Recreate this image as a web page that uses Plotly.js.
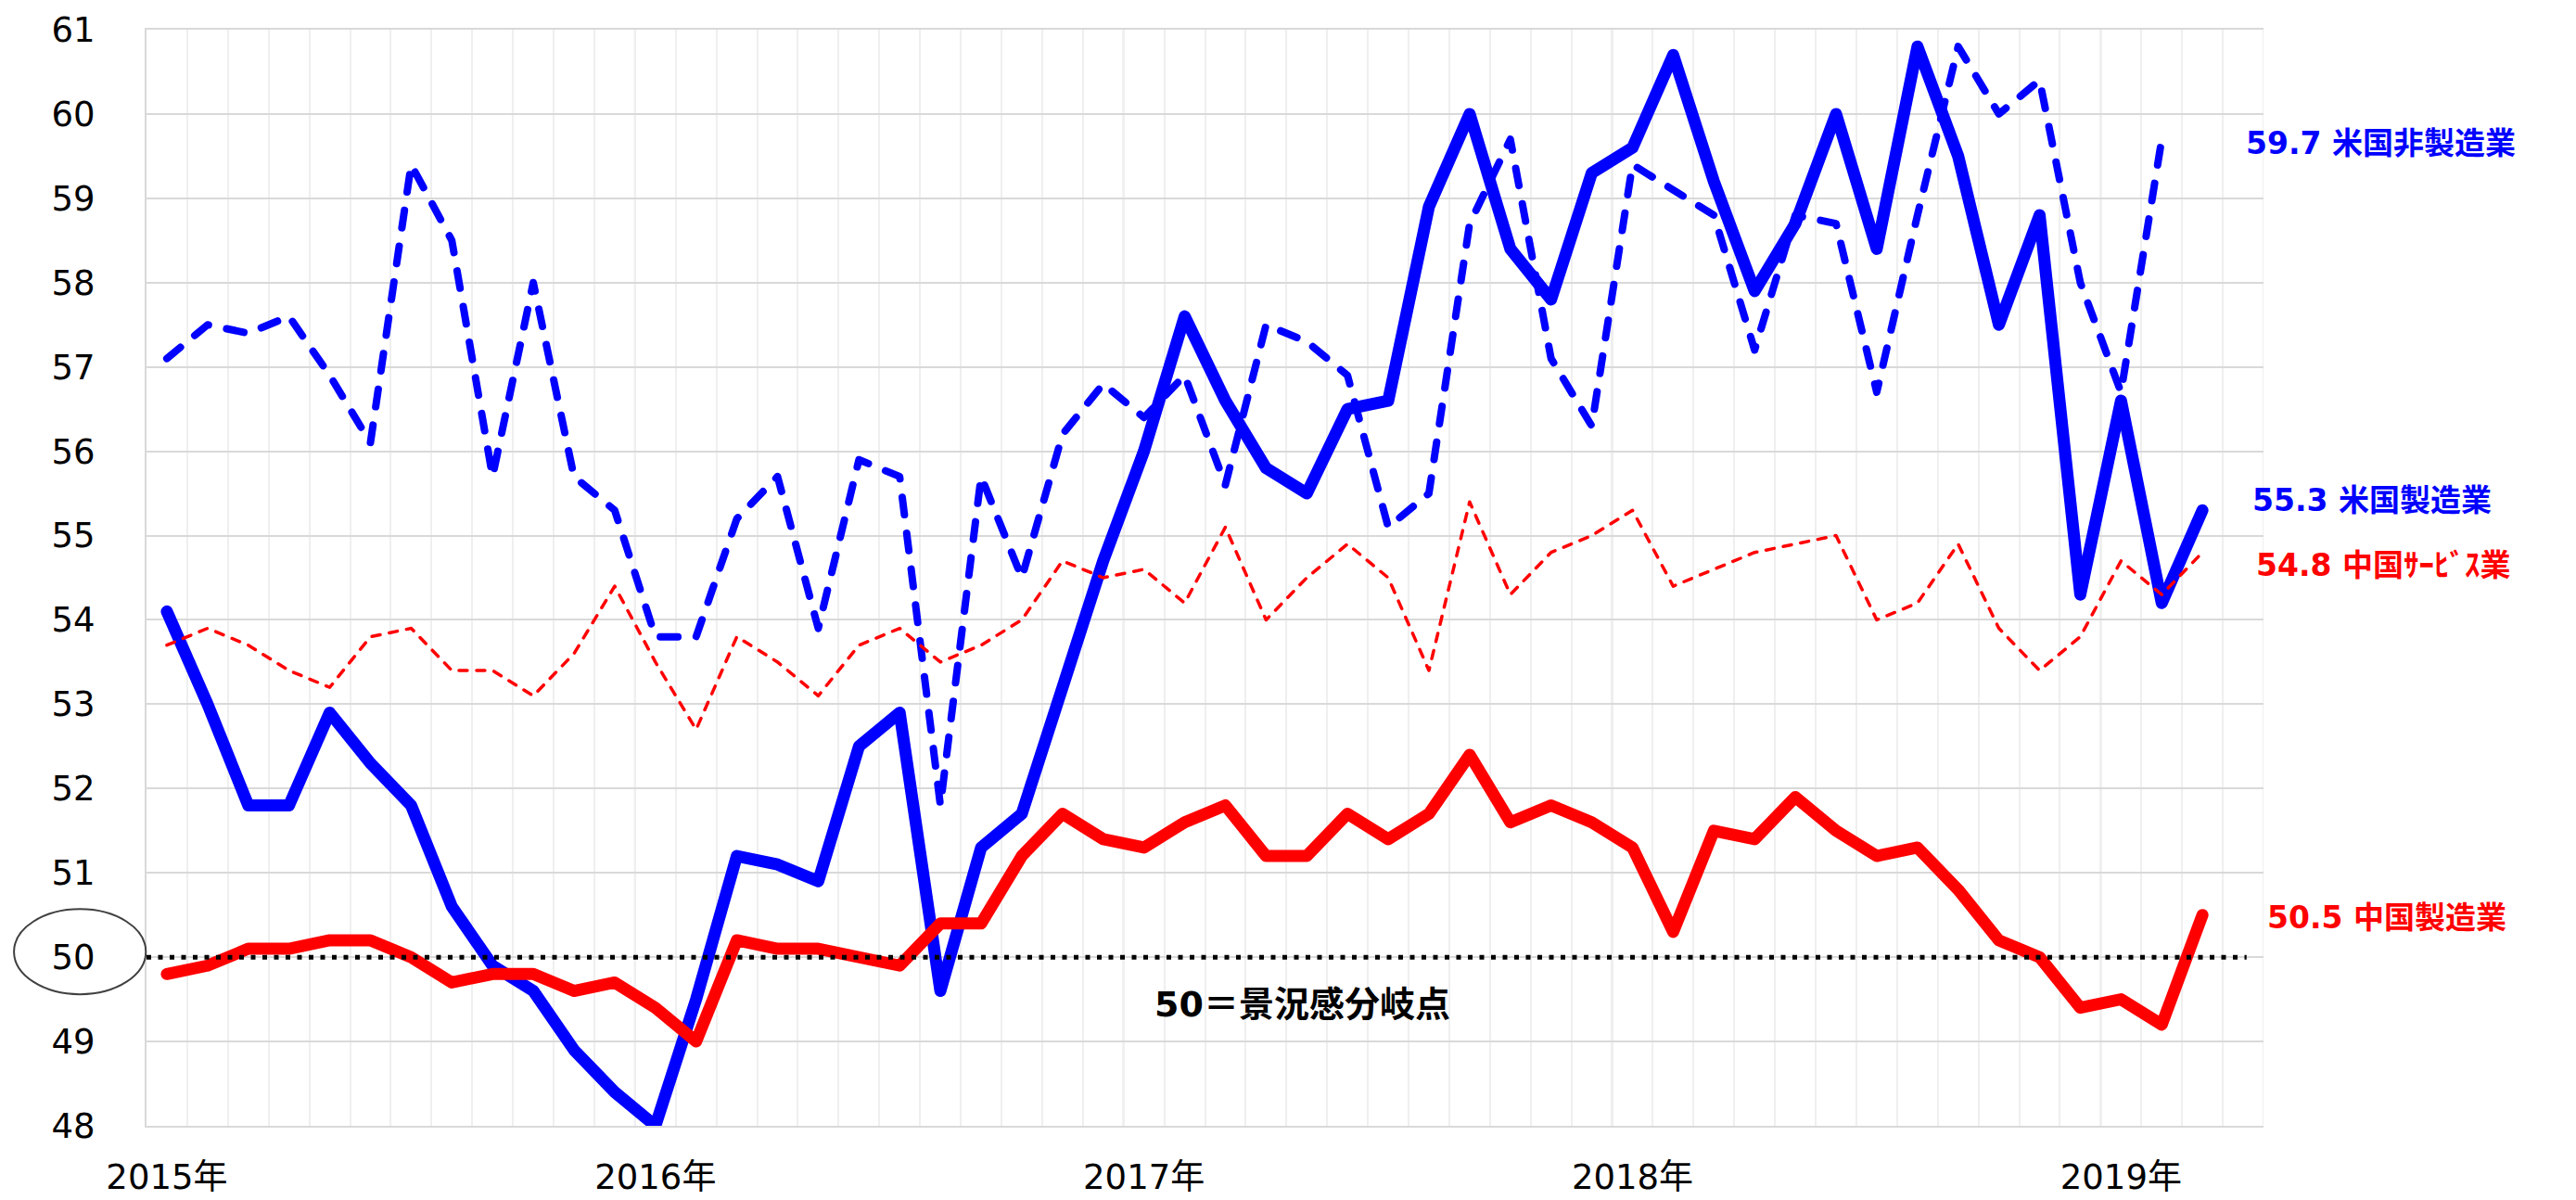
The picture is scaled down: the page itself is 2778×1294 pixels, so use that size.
<!DOCTYPE html>
<html>
<head>
<meta charset="utf-8">
<script src="https://cdn.plot.ly/plotly-3.0.1.min.js"></script>
<style>
  html, body { margin: 0; padding: 0; background: #fff; }
  #chart { width: 2778px; height: 1294px; }
  .js-line { stroke-linejoin: round !important; stroke-linecap: round !important; }
</style>
</head>
<body>
<div id="chart"></div>
<script>
// ---- Data (monthly, Jan 2015 onward) ----
const yearLabels = ['2015年', '2016年', '2017年', '2018年', '2019年'];

// 米国製造業 (ISM manufacturing), Jan 2015 - Mar 2019
const usMfg = [
  54.1, 53.0, 51.8, 51.8, 52.9, 52.3, 51.8, 50.6, 49.9, 49.6, 48.9, 48.4,
  48.0, 49.5, 51.2, 51.1, 50.9, 52.5, 52.9, 49.6, 51.3, 51.7, 53.2, 54.7,
  56.0, 57.6, 56.6, 55.8, 55.5, 56.5, 56.6, 58.9, 60.0, 58.4, 57.8, 59.3,
  59.6, 60.7, 59.2, 57.9, 58.7, 60.0, 58.4, 60.8, 59.5, 57.5, 58.8, 54.3,
  56.6, 54.2, 55.3
];

// 米国非製造業 (ISM non-manufacturing), Jan 2015 - Feb 2019
const usNonMfg = [
  57.1, 57.5, 57.4, 57.6, 56.9, 56.1, 59.4, 58.5, 55.7, 58.0, 55.7, 55.3,
  53.8, 53.8, 55.2, 55.7, 53.9, 55.9, 55.7, 51.8, 55.7, 54.5, 56.2, 56.8,
  56.4, 56.9, 55.6, 57.5, 57.3, 56.9, 55.1, 55.5, 58.7, 59.7, 57.1, 56.3,
  59.4, 59.1, 58.8, 57.2, 58.8, 58.7, 56.7, 58.8, 60.8, 60.0, 60.4, 58.0,
  56.7, 59.7
];

// 中国製造業 (NBS manufacturing PMI), Jan 2015 - Mar 2019
const cnMfg = [
  49.8, 49.9, 50.1, 50.1, 50.2, 50.2, 50.0, 49.7, 49.8, 49.8, 49.6, 49.7,
  49.4, 49.0, 50.2, 50.1, 50.1, 50.0, 49.9, 50.4, 50.4, 51.2, 51.7, 51.4,
  51.3, 51.6, 51.8, 51.2, 51.2, 51.7, 51.4, 51.7, 52.4, 51.6, 51.8, 51.6,
  51.3, 50.3, 51.5, 51.4, 51.9, 51.5, 51.2, 51.3, 50.8, 50.2, 50.0, 49.4,
  49.5, 49.2, 50.5
];

// 中国サービス業 (NBS non-manufacturing PMI), Jan 2015 - Mar 2019
const cnServ = [
  53.7, 53.9, 53.7, 53.4, 53.2, 53.8, 53.9, 53.4, 53.4, 53.1, 53.6, 54.4,
  53.5, 52.7, 53.8, 53.5, 53.1, 53.7, 53.9, 53.5, 53.7, 54.0, 54.7, 54.5,
  54.6, 54.2, 55.1, 54.0, 54.5, 54.9, 54.5, 53.4, 55.4, 54.3, 54.8, 55.0,
  55.3, 54.4, 54.6, 54.8, 54.9, 55.0, 54.0, 54.2, 54.9, 53.9, 53.4, 53.8,
  54.7, 54.3, 54.8
];

const seriesNames = ['米国製造業', '米国非製造業', '中国製造業', '中国ｻｰﾋﾞｽ業'];
const THRESHOLD = 50;
const thresholdText = '50＝景況感分岐点';

// ---- Layout helpers ----
const Y_MIN = 48, Y_MAX = 61;
const N_SLOTS = 52;               // Jan 2015 .. Apr 2019 category slots
const idx = arr => arr.map((_, i) => i);
const last = arr => arr[arr.length - 1];
const yPaper = v => (v - Y_MIN) / (Y_MAX - Y_MIN);

const BLUE = '#0000FF', RED = '#FF0000';
const FONT = 'DejaVu Sans, Noto Sans CJK JP, sans-serif';

const traces = [
  { x: idx(usMfg), y: usMfg, name: seriesNames[0], mode: 'lines',
    line: { color: BLUE, width: 13 } },
  { x: idx(usNonMfg), y: usNonMfg, name: seriesNames[1], mode: 'lines',
    line: { color: BLUE, width: 8, dash: '19px,20px' } },
  { x: idx(cnMfg), y: cnMfg, name: seriesNames[2], mode: 'lines',
    line: { color: RED, width: 13 } },
  { x: idx(cnServ), y: cnServ, name: seriesNames[3], mode: 'lines',
    line: { color: RED, width: 3.5, dash: '9px,10px' } }
];

// year boundary (darker) vertical gridlines
const yearTicks = yearLabels.map((_, k) => k * 12);
const shapes = yearTicks.slice(1).map(t => ({
  type: 'line', layer: 'between', xref: 'x', yref: 'paper',
  x0: t - 0.5, x1: t - 0.5, y0: 0, y1: 1,
  line: { color: '#d9d9d9', width: 2 }
}));
// right border (light)
shapes.push({
  type: 'line', layer: 'between', xref: 'x', yref: 'paper',
  x0: N_SLOTS - 0.5, x1: N_SLOTS - 0.5, y0: 0, y1: 1,
  line: { color: '#efefef', width: 2 }
});
// threshold dotted line
shapes.push({
  type: 'line', layer: 'above', xref: 'paper', yref: 'y',
  x0: 0, x1: 0.992, y0: THRESHOLD, y1: THRESHOLD,
  line: { color: '#000000', width: 5, dash: '5px,7.5px' }
});
// ellipse around "50" tick label
shapes.push({
  type: 'circle', layer: 'above', xref: 'paper', yref: 'paper',
  x0: -0.0626, x1: -0.0003,
  y0: yPaper(THRESHOLD - 0.44), y1: yPaper(THRESHOLD + 0.57),
  line: { color: '#404040', width: 2 }
});

const endLabel = (arr, name, color, xPaper, dy) => ({
  xref: 'paper', yref: 'y', x: xPaper, y: last(arr) + dy,
  xanchor: 'left', yanchor: 'middle', showarrow: false,
  text: '<b>' + last(arr).toFixed(1) + ' ' + name + '</b>',
  font: { family: FONT, size: 33, color: color }
});

const annotations = [
  endLabel(usNonMfg, seriesNames[1], BLUE, 0.9908, -0.05),
  endLabel(usMfg, seriesNames[0], BLUE, 0.9939, 0.12),
  endLabel(cnServ, seriesNames[3], RED, 0.9956, -0.15),
  endLabel(cnMfg, seriesNames[2], RED, 1.0009, -0.03),
  { xref: 'x', yref: 'y', x: 27.9, y: THRESHOLD - 0.56, showarrow: false,
    xanchor: 'center', yanchor: 'middle',
    text: '<b>' + thresholdText + '</b>',
    font: { family: FONT, size: 38, color: '#000000' } }
];

const layout = {
  width: 2778, height: 1294,
  margin: { l: 158, r: 337, t: 32, b: 80, pad: 0 },
  paper_bgcolor: '#ffffff', plot_bgcolor: '#ffffff',
  showlegend: false,
  font: { family: FONT, size: 37, color: '#000000' },
  xaxis: {
    range: [-0.5, N_SLOTS - 0.5],
    tickmode: 'array', tickvals: yearTicks, ticktext: yearLabels,
    ticks: '', showgrid: false, zeroline: false,
    showline: true, mirror: true, linecolor: '#d9d9d9', linewidth: 2,
    tickfont: { family: FONT, size: 37, color: '#000000' },
    ticklabelstandoff: 22,
    automargin: false,
    minor: { tick0: -0.5, dtick: 1, showgrid: true, gridcolor: '#efefef', gridwidth: 2, ticks: '' }
  },
  yaxis: {
    range: [Y_MIN, Y_MAX], dtick: 1, tick0: Y_MIN,
    ticks: '', showgrid: true, gridcolor: '#d9d9d9', gridwidth: 2,
    zeroline: false, showline: true, linecolor: '#d9d9d9', linewidth: 2,
    tickfont: { family: FONT, size: 37, color: '#000000' },
    ticklabelstandoff: 46,
    automargin: false
  },
  shapes: shapes,
  annotations: annotations
};

Plotly.newPlot('chart', traces, layout, { staticPlot: true, displayModeBar: false });
</script>
</body>
</html>
